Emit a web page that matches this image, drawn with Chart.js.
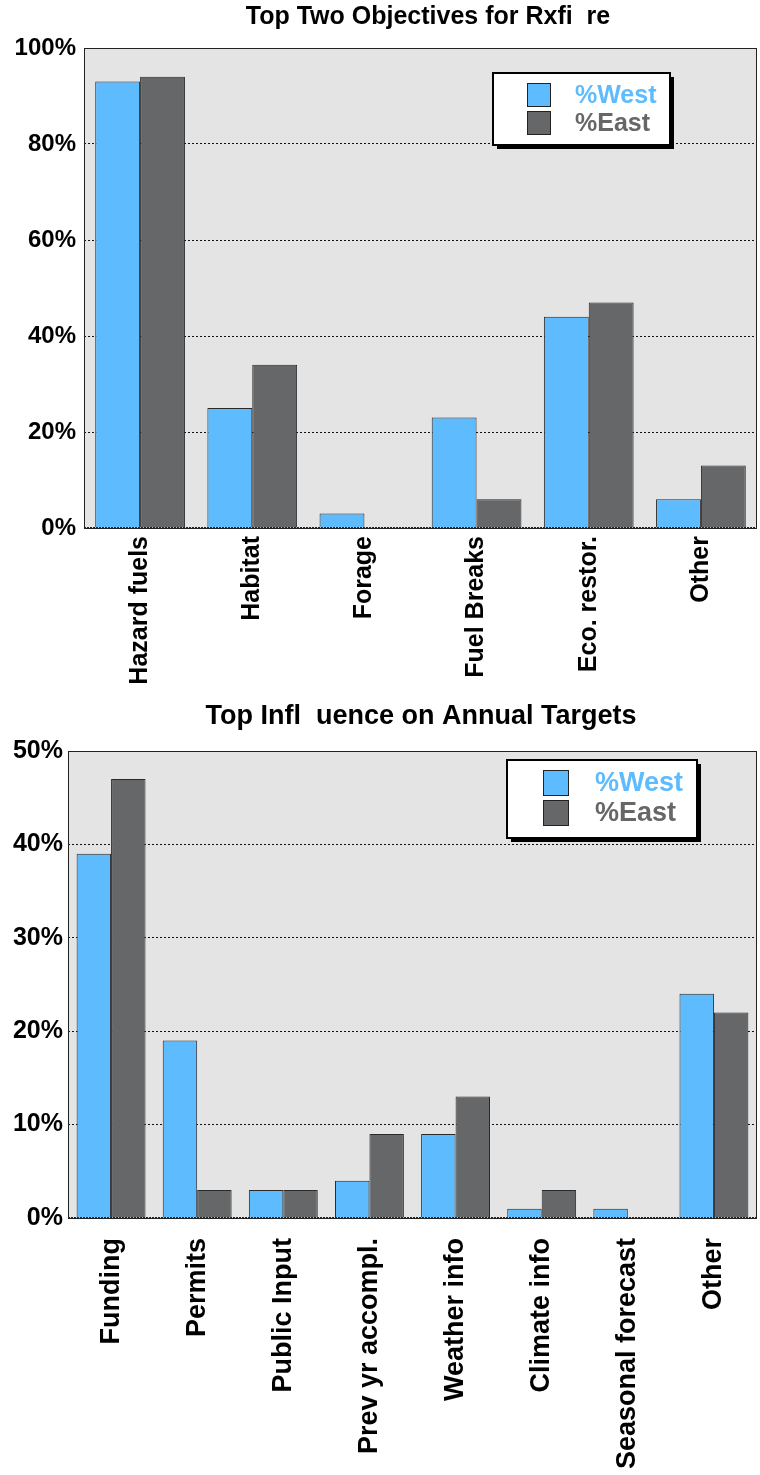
<!DOCTYPE html>
<html>
<head>
<meta charset="utf-8">
<script src="https://cdn.jsdelivr.net/npm/chart.js@4"></script>
<style>
  body { margin: 0; background: #fff; }
  .wrap { position: absolute; left: 0; width: 760px; }
</style>
</head>
<body>
<div class="wrap" style="top:0;height:700px"><canvas id="c1"></canvas></div>
<div class="wrap" style="top:700px;height:775px"><canvas id="c2"></canvas></div>
<script>
// chart 1 data
const objectives = ["Hazard fuels", "Habitat", "Forage", "Fuel Breaks", "Eco. restor.", "Other"];
const objWest = [93, 25, 3, 23, 44, 6];
const objEast = [94, 34, 0, 6, 47, 13];
const objTicks = [0, 20, 40, 60, 80, 100];

// chart 2 data
const influences = ["Funding", "Permits", "Public Input", "Prev yr accompl.", "Weather info", "Climate info", "Seasonal forecast", "Other"];
const infWest = [39, 19, 3, 4, 9, 1, 1, 24];
const infEast = [47, 3, 3, 9, 13, 3, 0, 22];
const infTicks = [0, 10, 20, 30, 40, 50];

const seriesNames = ["%West", "%East"];
const WEST = "#5ebbfe";
const EAST = "#666769";
const FONT = "'Liberation Sans', Arial, Helvetica, sans-serif";

// background, frame, title and the boxed legend
const decor = {
  id: "decor",
  beforeDraw(chart) {
    const { ctx, chartArea: a } = chart;
    ctx.save();
    ctx.fillStyle = "#e3e4e3";
    ctx.fillRect(a.left, a.top, a.right - a.left, a.bottom - a.top);
    ctx.restore();
  },
  afterDatasetsDraw(chart) {
    const { ctx, chartArea: a } = chart;
    ctx.save();
    ctx.strokeStyle = "#222";
    ctx.lineWidth = 1;
    ctx.strokeRect(a.left + 0.5, a.top + 0.5, a.right - a.left - 1, a.bottom - a.top);
    ctx.lineWidth = 2;
    ctx.setLineDash([2, 1]);
    ctx.beginPath();
    ctx.moveTo(a.left, a.bottom);
    ctx.lineTo(a.right, a.bottom);
    ctx.stroke();
    ctx.restore();
  },
  afterDraw(chart, args, o) {
    const ctx = chart.ctx;
    ctx.save();
    // title
    ctx.fillStyle = "#000";
    ctx.font = "bold " + o.titleSize + "px " + FONT;
    ctx.textAlign = "center";
    ctx.textBaseline = "middle";
    ctx.fillText(o.title, o.titleX, o.titleY);

    // legend box with shadow
    const L = o.legend;
    ctx.fillStyle = "#000";
    ctx.fillRect(L.x + 4, L.y + 4, L.w, L.h);
    ctx.fillStyle = "#fff";
    ctx.fillRect(L.x, L.y, L.w, L.h);
    ctx.strokeStyle = "#000";
    ctx.lineWidth = 2;
    ctx.strokeRect(L.x, L.y, L.w, L.h);
    ctx.font = "bold " + L.size + "px " + FONT;
    ctx.textAlign = "left";
    chart.data.datasets.forEach((ds, i) => {
      const y = L.y + L.first + i * L.step;
      ctx.fillStyle = ds.backgroundColor;
      ctx.fillRect(L.sx, y, L.sw, L.sw);
      ctx.strokeStyle = "#222";
      ctx.lineWidth = 1;
      ctx.strokeRect(L.sx + 0.5, y + 0.5, L.sw - 1, L.sw - 1);
      ctx.fillStyle = ds.backgroundColor;
      ctx.fillText(ds.label, L.tx, y + L.sw / 2 + 1);
    });
    ctx.restore();
  }
};

function makeChart(id, labels, west, east, ticks, geo) {
  const ctx = document.getElementById(id).getContext("2d");
  return new Chart(ctx, {
    type: "bar",
    data: {
      labels: labels,
      datasets: [
        { label: seriesNames[0], data: west, backgroundColor: WEST, borderColor: "#2a2a2a", borderWidth: 1 },
        { label: seriesNames[1], data: east, backgroundColor: EAST, borderColor: "#2a2a2a", borderWidth: 1 }
      ]
    },
    options: {
      responsive: true,
      maintainAspectRatio: false,
      animation: false,
      categoryPercentage: 0.8,
      barPercentage: 1.0,
      layout: { padding: { top: geo.top, right: geo.right, left: 0, bottom: 0 } },
      plugins: {
        legend: { display: false },
        tooltip: { enabled: false },
        decor: {
          title: geo.title, titleX: geo.titleX, titleY: 17, titleSize: geo.titleSize,
          legend: geo.legend
        }
      },
      scales: {
        x: {
          grid: { display: false, drawTicks: false },
          border: { display: false },
          ticks: {
            minRotation: 90, maxRotation: 90, autoSkip: false,
            padding: geo.xPad, color: "#000",
            font: { family: FONT, weight: "bold", size: geo.xSize }
          },
          afterFit: s => {
            s.height = geo.xHeight;
            s.paddingLeft = 0;
            s.paddingRight = 0;
          }
        },
        y: {
          min: ticks[0],
          max: ticks[ticks.length - 1],
          afterBuildTicks: s => { s.ticks = ticks.map(v => ({ value: v })); },
          grid: { color: "#111", lineWidth: 1, drawTicks: false },
          border: { display: false, dash: [2, 2] },
          ticks: {
            padding: geo.yPad, color: "#000",
            font: { family: FONT, weight: "bold", size: geo.ySize },
            callback: v => v + "%"
          },
          afterFit: s => { s.width = geo.yWidth; }
        }
      }
    },
    plugins: [decor]
  });
}

makeChart("c1", objectives, objWest, objEast, objTicks, {
  top: 48, right: 3, xHeight: 172, yWidth: 84, xPad: 8, xSize: 25, ySize: 24, yPad: 8,
  title: "Top Two Objectives for Rxfi  re", titleX: 428, titleSize: 25,
  legend: { x: 493, y: 73, w: 177, h: 72, sx: 527, sw: 24, first: 10, step: 28, tx: 575, size: 25 }
});

makeChart("c2", influences, infWest, infEast, infTicks, {
  top: 51, right: 3, xHeight: 257, yWidth: 68, xPad: 20, xSize: 27, ySize: 25, yPad: 5,
  title: "Top Infl  uence on Annual Targets", titleX: 421, titleSize: 27,
  legend: { x: 507, y: 60, w: 190, h: 78, sx: 543, sw: 26, first: 10, step: 30, tx: 595, size: 27 }
});
</script>
</body>
</html>
